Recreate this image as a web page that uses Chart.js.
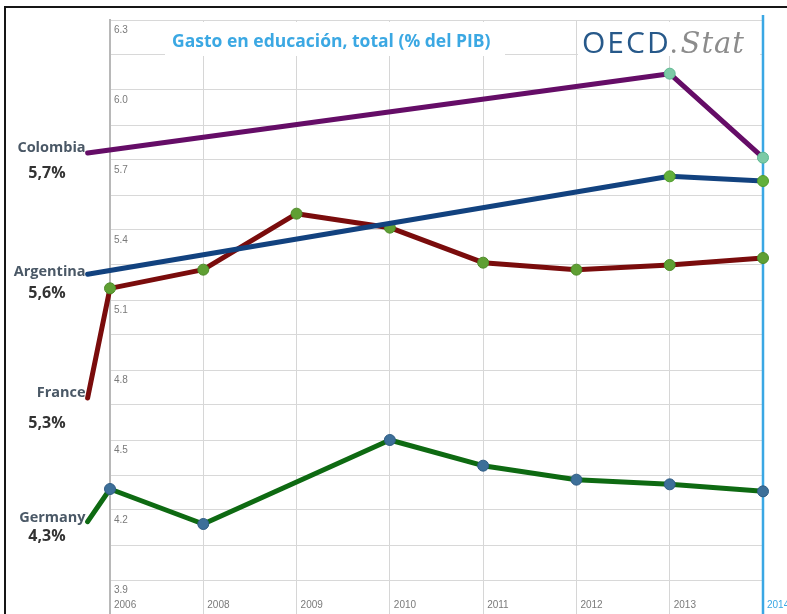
<!DOCTYPE html>
<html>
<head>
<meta charset="utf-8">
<title>Gasto en educación, total (% del PIB)</title>
<script src="https://cdn.jsdelivr.net/npm/chart.js@4/dist/chart.umd.min.js"></script>
<style>
  html, body { margin: 0; padding: 0; background: #ffffff; }
  canvas { display: block; }
</style>
</head>
<body>
<canvas id="chart" width="787" height="614"></canvas>
<script>
// Public spending on education, total (% of GDP)
const years = ['2006', '2008', '2009', '2010', '2011', '2012', '2013', '2014'];
const countries = ['Colombia', 'Argentina', 'France', 'Germany'];
const colombia  = [null, null, null, null, null, null, 6.07, 5.71];
const argentina = [null, null, null, null, null, null, 5.63, 5.61];
const france    = [5.15, 5.23, 5.47, 5.41, 5.26, 5.23, 5.25, 5.28];
const germany   = [4.29, 4.14, null, 4.50, 4.39, 4.33, 4.31, 4.28];
// level on the value axis where each country's name tag hooks onto its line
const tagLevels = [5.73, 5.21, 4.68, 4.15];
const yTickLabels = ['3.9', '4.2', '4.5', '4.8', '5.1', '5.4', '5.7', '6.0', '6.3'];

const TAG_X = -0.24;             // tag hook, just left of the first year
const lineColors  = ['#650d67', '#12427f', '#7a0c0c', '#0e6a12'];
const markerFill  = ['#7ccaa6', '#62b03c', '#5f9f33', '#3d6f99'];
const markerEdge  = ['#5cb790', '#4f9a2c', '#4d8a28', '#2f5c84'];
const seriesValues = [colombia, argentina, france, germany];
// vertical offsets (px) of the name and the value under the tag hook
const tagNameDy  = [-5, -2, -5, -4];
const tagValueDy = [20, 19, 25, 15];

function buildSeries(values, tagLevel) {
  const pts = [{ x: TAG_X, y: tagLevel, tag: true }];
  values.forEach((v, i) => { if (v !== null) pts.push({ x: i, y: v }); });
  return pts;
}
function lastValue(values) {
  for (let i = values.length - 1; i >= 0; i--) if (values[i] !== null) return values[i];
  return null;
}

const datasets = countries.map((name, k) => ({
  label: name,
  data: buildSeries(seriesValues[k], tagLevels[k]),
  borderColor: lineColors[k],
  borderWidth: 5,
  borderJoinStyle: 'round',
  borderCapStyle: 'round',
  tension: 0,
  fill: false,
  clip: false,
  pointRadius: (ctx) => (ctx.raw && ctx.raw.tag ? 0 : 5.5),
  pointBackgroundColor: markerFill[k],
  pointBorderColor: markerEdge[k],
  pointBorderWidth: 1
}));

const decorations = {
  id: 'decorations',
  beforeDatasetsDraw(chart) {
    const { ctx, scales: { x } } = chart;
    ctx.save();
    // highlighted latest year
    const xl = x.getPixelForValue(years.length - 1);
    ctx.strokeStyle = '#3aa7e4';
    ctx.lineWidth = 2.5;
    ctx.beginPath();
    ctx.moveTo(xl, 15);
    ctx.lineTo(xl, chart.height);
    ctx.stroke();

    // title
    ctx.fillStyle = '#ffffff';
    ctx.fillRect(165, 22, 340, 34);
    ctx.fillStyle = '#3ba8e3';
    ctx.font = 'bold 17.5px "Open Sans"';
    ctx.textAlign = 'left';
    ctx.textBaseline = 'middle';
    ctx.fillText('Gasto en educación, total (% del PIB)', 172, 42);

    // OECD.Stat mark
    ctx.fillStyle = '#ffffff';
    ctx.fillRect(578, 22, 182, 34);
    ctx.textBaseline = 'alphabetic';
    ctx.font = '30px "Open Sans"';
    ctx.letterSpacing = '2px';
    ctx.fillStyle = '#27598a';
    ctx.fillText('OECD', 582, 53);
    const w = ctx.measureText('OECD').width;
    ctx.fillStyle = '#8c8c8c';
    ctx.fillText('.', 582 + w - 1, 53);
    const wd = ctx.measureText('.').width;
    ctx.font = 'italic 29px "DejaVu Serif"';
    ctx.letterSpacing = '1px';
    ctx.fillText('Stat', 582 + w + wd, 53);
    ctx.letterSpacing = '0px';
    ctx.restore();
  },
  afterDraw(chart) {
    const { ctx, scales: { x, y } } = chart;
    ctx.save();
    const hx = x.getPixelForValue(TAG_X);
    countries.forEach((name, k) => {
      const hy = y.getPixelForValue(tagLevels[k]);
      ctx.textBaseline = 'middle';
      ctx.textAlign = 'right';
      ctx.font = 'bold 14.5px "Open Sans"';
      ctx.fillStyle = '#4a5866';
      ctx.fillText(name, hx - 2, hy + tagNameDy[k]);
      const v = lastValue(seriesValues[k]);
      ctx.textAlign = 'center';
      ctx.font = 'bold 16px "Open Sans"';
      ctx.fillStyle = '#333333';
      ctx.fillText(v.toFixed(1).replace('.', ',') + '%', 47, hy + tagValueDy[k]);
    });
    // frame
    ctx.strokeStyle = '#161616';
    ctx.lineWidth = 2;
    ctx.strokeRect(5, 7, 900, 900);
    ctx.restore();
  }
};

new Chart(document.getElementById('chart'), {
  type: 'line',
  data: { datasets },
  plugins: [decorations],
  options: {
    responsive: false,
    animation: false,
    devicePixelRatio: 1,
    layout: { padding: { left: 110, right: 24, top: 20, bottom: 0 } },
    plugins: { legend: { display: false }, tooltip: { enabled: false }, title: { display: false } },
    scales: {
      x: {
        type: 'linear',
        min: 0,
        max: years.length - 1,
        afterFit: (scale) => { scale.height = 34; },
        border: { display: false },
        grid: {
          drawTicks: true,
          tickLength: 34,
          color: (ctx) => ctx.index === 0 ? '#b8b8b8' : (ctx.index === years.length - 1 ? 'rgba(0,0,0,0)' : '#d6d6d6'),
          lineWidth: (ctx) => ctx.index === 0 ? 2 : 1
        },
        ticks: {
          stepSize: 1,
          autoSkip: false,
          maxRotation: 0,
          align: 'start',
          padding: -15,
          labelOffset: 4,
          font: { family: '"Liberation Sans"', size: 10 },
          color: (ctx) => ctx.index === years.length - 1 ? '#3aa7e4' : '#7a7a7a',
          callback: (v) => years[v] !== undefined ? years[v] : ''
        }
      },
      y: {
        min: 3.9,
        max: 6.3,
        afterFit: (scale) => { scale.width = 0; },
        border: { display: true, color: '#b8b8b8', width: 2 },
        grid: { drawTicks: false, color: '#d8d8d8', lineWidth: 1 },
        ticks: {
          stepSize: 0.15,
          mirror: true,
          padding: 4,
          labelOffset: 10,
          font: { family: '"Liberation Sans"', size: 10 },
          color: '#7a7a7a',
          callback: (v) => {
            const s = Number(v).toFixed(1);
            return Math.abs(v * 10 - Math.round(v * 10)) < 1e-6 && yTickLabels.includes(s) ? s : '';
          }
        }
      }
    }
  }
});
</script>
</body>
</html>
